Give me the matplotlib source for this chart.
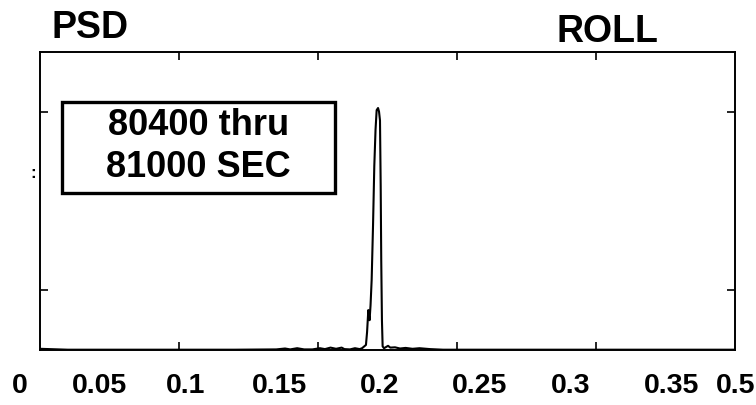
import matplotlib
matplotlib.use("Agg")
import matplotlib.pyplot as plt
from matplotlib.patches import Rectangle

# ---- data ----
freq = [0.000, 0.020, 0.060, 0.100, 0.140, 0.170, 0.1763, 0.180, 0.1850, 0.190,
        0.1960, 0.2014, 0.2050, 0.2090, 0.2130, 0.2170, 0.2190, 0.2230, 0.2266,
        0.2300, 0.2317, 0.2345, 0.2353, 0.2362, 0.2371, 0.2378, 0.2386, 0.2396,
        0.2405, 0.2414, 0.2422, 0.2432, 0.2439, 0.2446, 0.2451, 0.2455, 0.2460,
        0.2465, 0.2475, 0.2504, 0.2520, 0.2554, 0.2590, 0.2630, 0.2680, 0.2730,
        0.2806, 0.2900, 0.3200, 0.3600, 0.4000, 0.4500, 0.5000]
psd = [0.004, 0.001, 0.001, 0.001, 0.001, 0.002, 0.005, 0.002, 0.006, 0.002,
       0.002, 0.006, 0.003, 0.008, 0.004, 0.008, 0.003, 0.002, 0.006,
       0.003, 0.006, 0.017, 0.060, 0.134, 0.100, 0.150, 0.235, 0.420,
       0.617, 0.740, 0.805, 0.812, 0.800, 0.770, 0.550, 0.300, 0.100,
       0.012, 0.006, 0.014, 0.008, 0.009, 0.005, 0.007, 0.004, 0.006,
       0.003, 0.001, 0.001, 0.001, 0.001, 0.001, 0.001]

tick_labels = ["0", "0.05", "0.1", "0.15", "0.2", "0.25", "0.3", "0.35", "0.5"]
title_left = "PSD"
title_right = "ROLL"
box_lines = ["80400 thru", "81000 SEC"]

# ---- layout ----
label_x_axesfrac = [-0.0288, 0.0863, 0.210, 0.345, 0.489, 0.633, 0.763, 0.909, 1.0014]

plt.rcParams['font.family'] = ['Liberation Sans', 'DejaVu Sans']

fig = plt.figure(figsize=(7.56, 4.05), dpi=100)
ax = fig.add_axes([40 / 756, 55 / 405, 695 / 756, 298 / 405])

ax.plot(freq, psd, color="black", linewidth=1.5)

ax.set_xlim(0, 0.5)
ax.set_ylim(0, 1)
ax.set_xticks([0.1, 0.2, 0.3, 0.4])
ax.set_yticks([0.2, 0.8])
ax.tick_params(direction="in", length=6, width=1.2, top=True, right=True,
               labelbottom=False, labelleft=False)
for s in ax.spines.values():
    s.set_linewidth(1.4)

for txt, xf in zip(tick_labels, label_x_axesfrac):
    ax.text(xf, -0.121, txt, transform=ax.transAxes, ha="center", va="center",
            fontsize=20.5, fontweight="bold", clip_on=False)

ax.add_patch(Rectangle((0.0317, 0.527), 0.3928, 0.305, transform=ax.transAxes,
                       fill=False, edgecolor="black", linewidth=2.4))
ax.text(0.228, 0.755, box_lines[0], transform=ax.transAxes, ha="center",
        va="center", fontsize=26, fontweight="bold")
ax.text(0.228, 0.611, box_lines[1], transform=ax.transAxes, ha="center",
        va="center", fontsize=26, fontweight="bold")

fig.text(90 / 756, 1 - 28 / 405, title_left, ha="center", va="center",
         fontsize=27, fontweight="bold")
fig.text(607 / 756, 1 - 32 / 405, title_right, ha="center", va="center",
         fontsize=27, fontweight="bold")
fig.text(33 / 756, 1 - 173 / 405, ":", ha="center", va="center", fontsize=12,
         fontweight="bold")

fig.savefig("out.png", dpi=100)
